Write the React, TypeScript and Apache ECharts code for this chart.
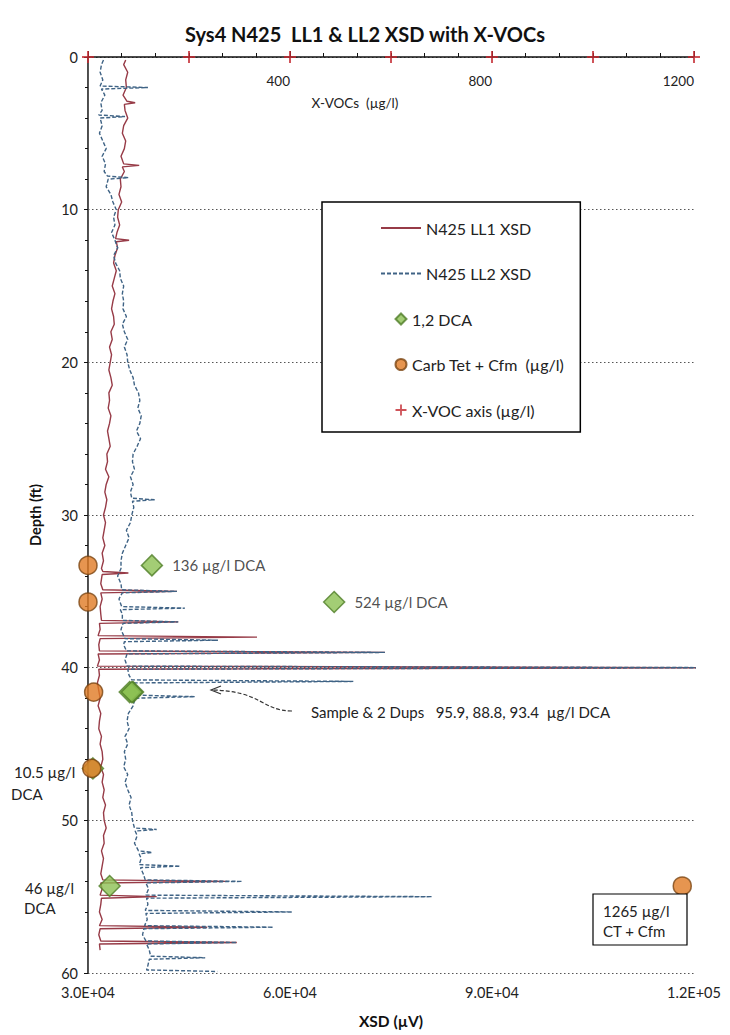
import React, { useEffect, useRef } from 'react';
import * as echarts from 'echarts';

const FONT = 'Lato, "Open Sans", "Liberation Sans", sans-serif';

// Axis definitions
const xsdMin = 30000;
const xsdMax = 120000;
const xsdInterval = 30000;
const xvocAxisMax = 1200;
const xvocInterval = 200;
const xvocPlotMax = 1290; // hidden X-VOC scale used by the DCA / CT points
const depthMin = 0;
const depthMax = 60;
const depthInterval = 10;

// XSD profiles: [depth (ft), XSD (µV)]
const ll1Profile: [number, number][] = [
  [0.2, 35600], [0.5, 35300], [1, 35900], [1.5, 35600], [2, 35700], [2.5, 35200], [2.9, 35800], [3.0, 37000], [3.1, 35400], [3.5, 35500], [4, 35900], [4.5, 35300], [5, 35100],
  [5.5, 35600], [6, 35400], [6.5, 34900], [7.0, 35300], [7.1, 37600], [7.2, 35100], [7.5, 35400], [8, 34800], [8.5, 34900], [9, 34600], [9.5, 35000], [10, 34500],
  [10.5, 34400], [11, 34700], [11.5, 34300], [11.9, 34100], [12.0, 36100], [12.1, 34200], [12.5, 34400], [13, 34000], [13.5, 33800], [14, 34200], [14.5, 33900], [15, 33600],
  [15.5, 34000], [16, 33700], [16.5, 33500], [17, 33800], [17.5, 33900], [18, 33400], [18.5, 33600], [19, 33200], [19.5, 33500], [20, 33300],
  [20.5, 33100], [21, 33400], [21.5, 33600], [22, 33100], [22.5, 33200], [23, 33000], [23.5, 33400], [24, 33200], [24.5, 32900], [25, 33100],
  [25.5, 33300], [26, 32800], [26.5, 32900], [27, 32600], [27.5, 33100], [28, 32700], [28.5, 32500], [29, 32800], [29.5, 32600], [30, 32300],
  [30.5, 32600], [31, 32400], [31.5, 32200], [32, 32500], [32.5, 32100], [33, 32300], [33.5, 32000], [33.7, 32200], [33.8, 36000], [33.9, 32100], [34.5, 31900], [34.9, 32200], [35.0, 43200], [35.1, 31900],
  [35.5, 32100], [36, 31800], [36.5, 31900], [36.9, 32000], [37.0, 43400], [37.1, 31700], [37.5, 31800], [37.9, 31500], [38.0, 55100], [38.1, 31800], [38.5, 31600], [38.9, 31700], [39.0, 74100], [39.1, 31500], [39.5, 31700], [39.9, 31400], [40.0, 125000], [40.1, 31600],
  [40.5, 31700], [41, 31400], [41.5, 31600], [42, 31800], [42.5, 31500], [43, 31900], [43.5, 31700], [44, 31600], [44.5, 32000], [45, 31800],
  [45.5, 32100], [46, 32200], [46.5, 31900], [47, 32300], [47.5, 32100], [48, 32400], [48.5, 32200], [49, 32600], [49.5, 32300], [50, 32400],
  [50.5, 32700], [51, 32300], [51.5, 32400], [52, 32000], [52.5, 32300], [53, 32100], [53.5, 31900], [53.9, 32200], [54.0, 50600], [54.1, 31900], [54.5, 32100], [54.9, 31800], [55.0, 40200], [55.1, 32000],
  [55.5, 31900], [56, 31700], [56.5, 32100], [56.9, 31700], [57.0, 47700], [57.1, 31800], [57.5, 31600], [57.9, 31900], [58.0, 52100], [58.1, 31700], [58.5, 31800],
];

const ll2Profile: [number, number][] = [
  [0.2, 32300], [0.5, 32000], [1, 31800], [1.5, 32200], [1.9, 31800], [2.0, 38900], [2.1, 32000], [2.5, 32500], [3, 31900], [3.5, 32100], [3.8, 31600], [3.9, 35500], [4.0, 31800], [4.5, 32100], [5, 31700],
  [5.5, 32200], [6, 32700], [6.5, 32100], [7, 32600], [7.5, 32400], [7.8, 32900], [7.9, 36000], [8.0, 33000], [8.5, 32700], [9, 33400], [9.5, 33700], [10, 34200],
  [10.5, 33800], [11, 34000], [11.5, 33500], [12, 34000], [12.5, 34400], [13, 33800], [13.5, 34100], [14, 34700], [14.5, 34800], [15, 35300],
  [15.5, 35100], [16, 35300], [16.5, 35200], [17, 35700], [17.5, 35100], [18, 35400], [18.5, 35900], [19, 35400], [19.5, 35800], [20, 35900],
  [20.5, 36200], [21, 36700], [21.5, 36900], [22, 37500], [22.5, 37700], [23, 37400], [23.5, 37900], [24, 37700], [24.5, 37200], [25, 37800],
  [25.5, 37300], [26, 36700], [26.5, 36600], [27, 36900], [27.5, 36300], [28, 36700], [28.5, 36300], [28.9, 36500], [29.0, 39900], [29.1, 36600], [29.5, 36800], [30, 36500],
  [30.5, 36300], [31, 35700], [31.5, 36100], [32, 35600], [32.5, 35100], [33, 34900], [33.5, 34900], [34, 34400], [34.5, 34900], [34.9, 35000], [35.0, 43200], [35.1, 35100],
  [35.5, 34600], [36.0, 35000], [36.1, 44400], [36.2, 34800], [36.5, 35100], [36.9, 35100], [37.0, 43400], [37.1, 35200], [37.5, 34900], [38.1, 35500], [38.2, 49300], [38.3, 35400], [38.5, 35300], [38.9, 35700], [39.0, 74100], [39.1, 35800], [39.5, 35500], [39.9, 35800], [40.0, 125000], [40.1, 35900],
  [40.5, 36100], [40.8, 36500], [40.9, 69400], [41.0, 36600], [41.5, 36900], [41.8, 37300], [41.9, 45900], [42.0, 37000], [42.5, 36700], [43, 36000], [43.5, 35800], [44, 36100], [44.5, 35500], [45, 35900],
  [45.5, 35400], [46, 35600], [46.5, 35300], [47, 35900], [47.5, 35500], [48, 35900], [48.5, 36400], [49, 36100], [49.5, 36500], [50, 36600],
  [50.5, 36900], [50.6, 40200], [50.7, 37000], [51, 37300], [51.5, 36900], [52.0, 37500], [52.1, 39500], [52.2, 37600], [52.5, 37900], [52.9, 37600], [53.0, 43700], [53.1, 37800], [53.5, 38200], [53.9, 38500], [54.0, 52900], [54.1, 38600], [54.5, 39000], [54.9, 38600], [55.0, 81100], [55.1, 38700],
  [55.5, 38900], [55.9, 38500], [56.0, 60300], [56.1, 38600], [56.5, 38800], [56.9, 38400], [57.0, 57500], [57.1, 38300], [57.5, 38100], [57.9, 38600], [58.0, 52100], [58.1, 38700], [58.5, 39100], [58.9, 39300], [59.0, 47400], [59.1, 39100], [59.5, 38900], [59.8, 38700], [59.9, 49200],
];

// 1,2 DCA samples: depth (ft), concentration (µg/l)
const dcaDepths = [33.3, 35.7, 41.6, 41.6, 41.6, 46.6, 54.3];
const dcaValues = [136, 524, 95.9, 88.8, 93.4, 10.5, 46];
const dcaLabels = ['136 µg/l DCA', '524 µg/l DCA', '', '', '', '', ''];

// Carbon tetrachloride + chloroform: depth (ft), concentration (µg/l)
const ctDepths = [33.3, 35.7, 41.6, 46.6, 54.3];
const ctValues = [0, 0, 12, 8, 1265];

// X-VOC axis markers
const xvocMarkerValues = [0, 200, 400, 600, 800, 1000, 1200];
const xvocMarkerDepth = 0;

const legendNames = ['N425 LL1 XSD', 'N425 LL2 XSD', '1,2 DCA', 'Carb Tet + Cfm  (µg/l)', 'X-VOC axis (µg/l)'];

const LL1_COLOR = '#973b47';
const LL2_COLOR = '#3f6385';
const PLUS = 'path://M5,0 H7 V5 H12 V7 H7 V12 H5 V7 H0 V5 H5 Z';
const DIAMOND = 'path://M5,0 L10,5 L5,10 L0,5 Z';

function fmtExp(v: number): string {
  const [m, e] = v.toExponential(1).split('e');
  const sign = e[0];
  const digits = e.slice(1).padStart(2, '0');
  return `${m}E${sign}${digits}`;
}

export default function App() {
  const ref = useRef<HTMLDivElement>(null);

  useEffect(() => {
    if (!ref.current) return;
    const chart = echarts.init(ref.current, undefined, { renderer: 'svg' });

    const annot = (size: number) => `${size}px ${FONT}`;
    const markerText = { fontFamily: FONT, fontSize: 16, color: '#222', padding: [0, 0, 0, -14] };

    const option: any = {
      animation: false,
      backgroundColor: '#ffffff',
      textStyle: { fontFamily: FONT },
      title: {
        text: 'Sys4 N425  LL1 & LL2 XSD with X-VOCs',
        left: 'center',
        top: 19,
        textStyle: { fontFamily: FONT, fontSize: 20, fontWeight: 'bold', color: '#111' },
      },
      grid: { left: 88, top: 57, right: 36, bottom: 62, containLabel: false },
      legend: {
        orient: 'vertical',
        left: 322,
        top: 202,
        itemGap: 29.5,
        itemWidth: 40,
        itemHeight: 11,
        symbolKeepAspect: true,
        padding: [18, 16, 14, 58],
        borderColor: '#000',
        borderWidth: 1.5,
        backgroundColor: '#fff',
        textStyle: { fontFamily: FONT, fontSize: 16, color: '#222' },
        data: [
          { name: legendNames[0], itemStyle: { opacity: 0 } },
          { name: legendNames[1], itemStyle: { opacity: 0 } },
          { name: legendNames[2], icon: DIAMOND, textStyle: markerText },
          { name: legendNames[3], textStyle: markerText },
          { name: legendNames[4], icon: PLUS, textStyle: markerText },
        ],
      },
      xAxis: [
        {
          type: 'value',
          position: 'bottom',
          min: xsdMin,
          max: xsdMax,
          interval: xsdInterval,
          name: 'XSD (µV)',
          nameLocation: 'middle',
          nameGap: 40,
          nameTextStyle: { fontFamily: FONT, fontSize: 15.5, fontWeight: 'bold', color: '#111' },
          axisLine: { show: true, lineStyle: { color: '#111', width: 1.5 } },
          axisTick: { show: true, inside: true, length: 6, lineStyle: { color: '#111' } },
          minorTick: { show: true, splitNumber: 6, length: 4, lineStyle: { color: '#111' } },
          axisLabel: { formatter: (v: number) => fmtExp(v), fontSize: 14.5, color: '#222', margin: 12, fontFamily: FONT },
          splitLine: { show: false },
        },
        {
          type: 'value',
          position: 'top',
          min: 0,
          max: xvocAxisMax,
          interval: xvocInterval,
          axisLine: { show: false },
          axisTick: { show: false },
          axisLabel: {
            inside: true,
            align: 'right',
            margin: 17,
            fontSize: 13.5,
            color: '#222',
            fontFamily: FONT,
            formatter: (v: number) => (v > 0 && v % 400 === 0 ? String(v) : ''),
          },
          splitLine: { show: false },
        },
        {
          type: 'value',
          position: 'top',
          min: 0,
          max: xvocPlotMax,
          show: false,
        },
      ],
      yAxis: [
        {
          type: 'value',
          inverse: true,
          min: depthMin,
          max: depthMax,
          interval: depthInterval,
          position: 'left',
          name: 'Depth (ft)',
          nameLocation: 'middle',
          nameGap: 45,
          nameRotate: 90,
          nameTextStyle: { fontFamily: FONT, fontSize: 14.5, fontWeight: 'bold', color: '#111' },
          axisLine: { show: true, lineStyle: { color: '#111', width: 1.5 } },
          axisTick: { show: true, length: 4, lineStyle: { color: '#111' } },
          minorTick: { show: true, splitNumber: 5, length: 3, lineStyle: { color: '#111' } },
          axisLabel: { fontSize: 14.5, color: '#222', margin: 10, fontFamily: FONT },
          splitLine: { show: true, lineStyle: { color: '#555', width: 1, type: [1.5, 2.5] } },
        },
        {
          type: 'value',
          inverse: true,
          min: depthMin,
          max: depthMax,
          position: 'right',
          axisLine: { show: true, lineStyle: { color: '#555', width: 1 } },
          axisTick: { show: false },
          axisLabel: { show: false },
          splitLine: { show: false },
        },
      ],
      series: [
        {
          name: legendNames[0],
          type: 'line',
          xAxisIndex: 0,
          yAxisIndex: 0,
          symbol: 'none',
          lineStyle: { color: LL1_COLOR, width: 1.4 },
          itemStyle: { color: LL1_COLOR },
          data: ll1Profile.map(([d, v]) => [v, d]),
          z: 2,
        },
        {
          name: legendNames[1],
          type: 'line',
          xAxisIndex: 0,
          yAxisIndex: 0,
          symbol: 'none',
          lineStyle: { color: LL2_COLOR, width: 1.4, type: [4, 2] },
          itemStyle: { color: LL2_COLOR },
          data: ll2Profile.map(([d, v]) => [v, d]),
          z: 3,
        },
        {
          name: legendNames[2],
          type: 'scatter',
          xAxisIndex: 2,
          yAxisIndex: 0,
          symbol: 'diamond',
          symbolSize: 21,
          clip: false,
          itemStyle: { color: '#8cc152', borderColor: '#4f7d27', borderWidth: 1.5 },
          data: dcaDepths.map((d, i) => ({
            value: [dcaValues[i], d],
            label: dcaLabels[i]
              ? { show: true, position: 'right', distance: 9, formatter: dcaLabels[i], fontSize: 15, color: '#222', fontFamily: FONT }
              : { show: false },
          })),
          z: 5,
        },
        {
          name: legendNames[3],
          type: 'scatter',
          xAxisIndex: 2,
          yAxisIndex: 0,
          symbol: 'circle',
          symbolSize: 18,
          clip: false,
          itemStyle: { color: '#e07b24', borderColor: '#7a4512', borderWidth: 1.5 },
          data: ctDepths.map((d, i) => [ctValues[i], d]),
          z: 6,
        },
        {
          name: legendNames[4],
          type: 'scatter',
          xAxisIndex: 1,
          yAxisIndex: 0,
          symbol: PLUS,
          symbolSize: 12,
          symbolKeepAspect: true,
          clip: false,
          itemStyle: { color: '#c3282f' },
          data: xvocMarkerValues.map((v) => [v, xvocMarkerDepth]),
          z: 7,
        },
      ],
      graphic: [
        {
          type: 'text',
          x: 355,
          y: 103,
          style: { text: 'X-VOCs  (µg/l)', textAlign: 'center', textVerticalAlign: 'middle', font: annot(13.5), fill: '#222' },
        },
        {
          type: 'text',
          x: 14,
          y: 772,
          style: { text: '10.5 µg/l', textAlign: 'left', textVerticalAlign: 'middle', font: annot(15), fill: '#222' },
        },
        {
          type: 'text',
          x: 11,
          y: 794,
          style: { text: 'DCA', textAlign: 'left', textVerticalAlign: 'middle', font: annot(15), fill: '#222' },
        },
        {
          type: 'text',
          x: 25,
          y: 888,
          style: { text: '46 µg/l', textAlign: 'left', textVerticalAlign: 'middle', font: annot(15), fill: '#222' },
        },
        {
          type: 'text',
          x: 24,
          y: 908,
          style: { text: 'DCA', textAlign: 'left', textVerticalAlign: 'middle', font: annot(15), fill: '#222' },
        },
        {
          type: 'bezierCurve',
          shape: { x1: 292, y1: 711, cpx1: 262, cpy1: 711, cpx2: 262, cpy2: 691, x2: 212, y2: 690 },
          style: { stroke: '#333', lineWidth: 1.2, lineDash: [4, 2], fill: 'none' },
        },
        {
          type: 'polyline',
          shape: { points: [[221, 686], [211, 690], [221, 694]] },
          style: { stroke: '#333', lineWidth: 1.2, fill: 'none' },
        },
        {
          type: 'text',
          x: 311,
          y: 712,
          style: { text: 'Sample & 2 Dups   95.9, 88.8, 93.4  µg/l DCA', textAlign: 'left', textVerticalAlign: 'middle', font: annot(15), fill: '#222' },
        },
        {
          type: 'rect',
          shape: { x: 593, y: 894, width: 94, height: 51 },
          style: { fill: '#fff', stroke: '#000', lineWidth: 1.2 },
          z: 10,
        },
        {
          type: 'text',
          x: 603,
          y: 911,
          z: 11,
          style: { text: '1265 µg/l', textAlign: 'left', textVerticalAlign: 'middle', font: annot(15), fill: '#222' },
        },
        {
          type: 'text',
          x: 603,
          y: 931,
          z: 11,
          style: { text: 'CT + Cfm', textAlign: 'left', textVerticalAlign: 'middle', font: annot(15), fill: '#222' },
        },
      ],
    };

    chart.setOption(option);
    return () => chart.dispose();
  }, []);

  return <div ref={ref} style={{ position: 'absolute', left: 0, top: 0, width: 730, height: 1035 }} />;
}
